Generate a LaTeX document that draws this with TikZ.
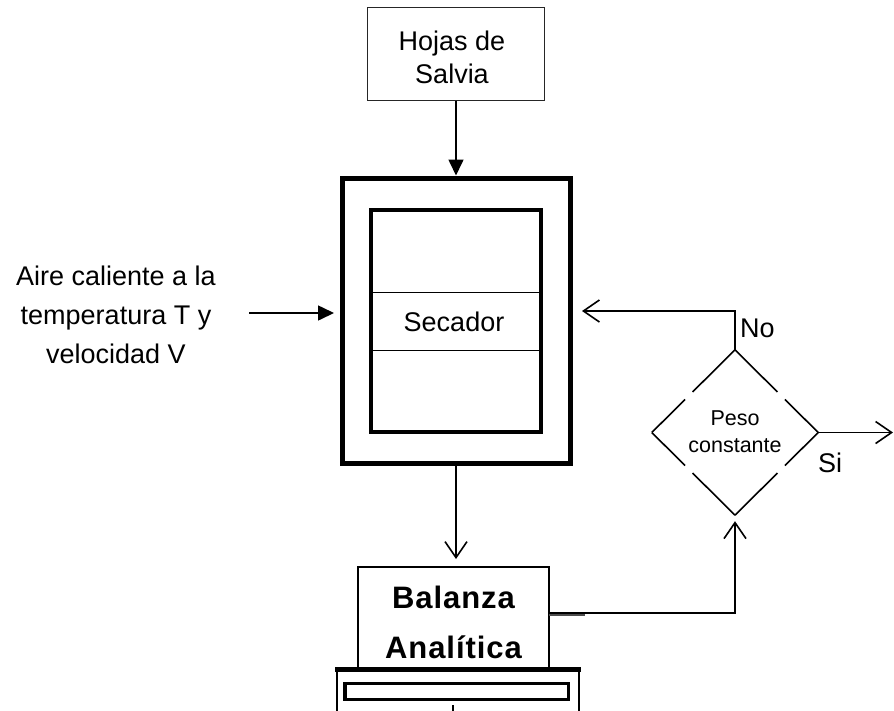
\documentclass[tikz,border=0pt]{standalone}
\usepackage{fontspec}
\setmainfont{Liberation Sans}
\newfontfamily\balfont{Liberation Sans Bold}[LetterSpace=3]
\usetikzlibrary{arrows.meta,shapes.geometric,calc}
\begin{document}
\begin{tikzpicture}[x=1pt,y=-1pt,
  thinbox/.style={draw=black!85,line width=1pt,inner sep=0pt},
  thickbox/.style={draw=black,inner sep=0pt},
  conn/.style={line width=1.6pt},
  openarrow/.style={conn,-{Straight Barb[length=16pt,width=22pt,line width=1.6pt]}},
  fillarrow/.style={conn,-{Triangle[length=16pt,width=15pt]}},
  bigtext/.style={font=\fontsize{27}{34}\selectfont,align=center,inner sep=0pt},
  smalltext/.style={font=\fontsize{21.5}{27}\selectfont,align=center,inner sep=0pt}]
\useasboundingbox (0,0) rectangle (894,710);
\clip (0,0) rectangle (894,710);

% top input box
\node[thinbox,minimum width=177pt,minimum height=93pt] (hojas) at (456,53.5) {};
\node[bigtext] (hojastxt) at (452,57) {Hojas de\\[-1pt]Salvia};

% dryer
\node[thickbox,line width=5pt,minimum width=228pt,minimum height=285pt] (outer) at (456,320.5) {};
\node[thickbox,line width=4pt,minimum width=170pt,minimum height=222pt] (inner) at (456,321) {};
\draw[line width=1pt] (inner.west |- 0,292) coordinate (l1a) -- (inner.east |- 0,292) coordinate (l1b);
\draw[line width=1pt] (inner.west |- 0,350) coordinate (l2a) -- (inner.east |- 0,350) coordinate (l2b);
\node[bigtext] (secador) at (454,322) {Secador};

% air input
\node[bigtext,font=\fontsize{27}{39}\selectfont] (aire) at (116,315) {Aire caliente a la\\temperatura T y\\velocidad V};
\coordinate (aireA) at (249,313);
\coordinate (aireB) at (334,313);
\draw[fillarrow] (aireA) -- (aireB);

% arrow from hojas to dryer
\draw[fillarrow] (hojas.south) -- (outer.north);

% decision diamond
\node[diamond,draw=none,inner sep=0pt,minimum width=166pt,minimum height=165pt] (dec) at (735,432.5) {};
\node[smalltext] (dectxt) at (735,432) {Peso\\constante};
\foreach \s/\t in {west/north,west/south,east/north,east/south}{
  \draw[conn] (dec.\s) -- ($(dec.\s)!0.40!(dec.\t)$);
  \draw[conn] ($(dec.\s)!0.49!(dec.\t)$) -- (dec.\t);
}
\node[anchor=base west,inner sep=0pt,font=\fontsize{27}{32}\selectfont] (no) at (740,337) {No};
\node[anchor=base west,inner sep=0pt,font=\fontsize{27}{32}\selectfont] (si) at (818,472) {Si};

% feedback (No)
\coordinate (fbtip) at (582,311);
\draw[openarrow] (dec.north) |- (fbtip);

% Si output
\coordinate (siend) at (893,432.5);
\draw[openarrow] (dec.east) -- (siend);

% balance
\node[thickbox,line width=2pt,minimum width=191pt,minimum height=101pt] (bal) at (453.5,617.5) {};
\node[inner sep=0pt,align=center,font=\balfont\fontsize{31}{50}\selectfont] (baltxt) at (453.5,622) {Balanza\\Analítica};
\draw[openarrow,shorten >=7pt] (outer.south) -- (outer.south |- bal.north);

% base of the balance
\draw[line width=2pt] (337,668) -- (337,715);
\draw[line width=2pt] (579,668) -- (579,715);
\draw[line width=5pt] (335,669) -- (581,669);
\draw[line width=3pt] (344,683.5) rectangle (568,699.5);
\draw[line width=4pt] (345,684) -- (345,699);
\draw[line width=1.5pt] (453,705) -- (453,712);

% balance to decision
\coordinate (balout) at (549,613);
\draw[line width=3.5pt,black!70] (549,614) -- (585,614);
\draw[openarrow,shorten >=6pt] (balout) -| (dec.south);
\end{tikzpicture}
\end{document}
